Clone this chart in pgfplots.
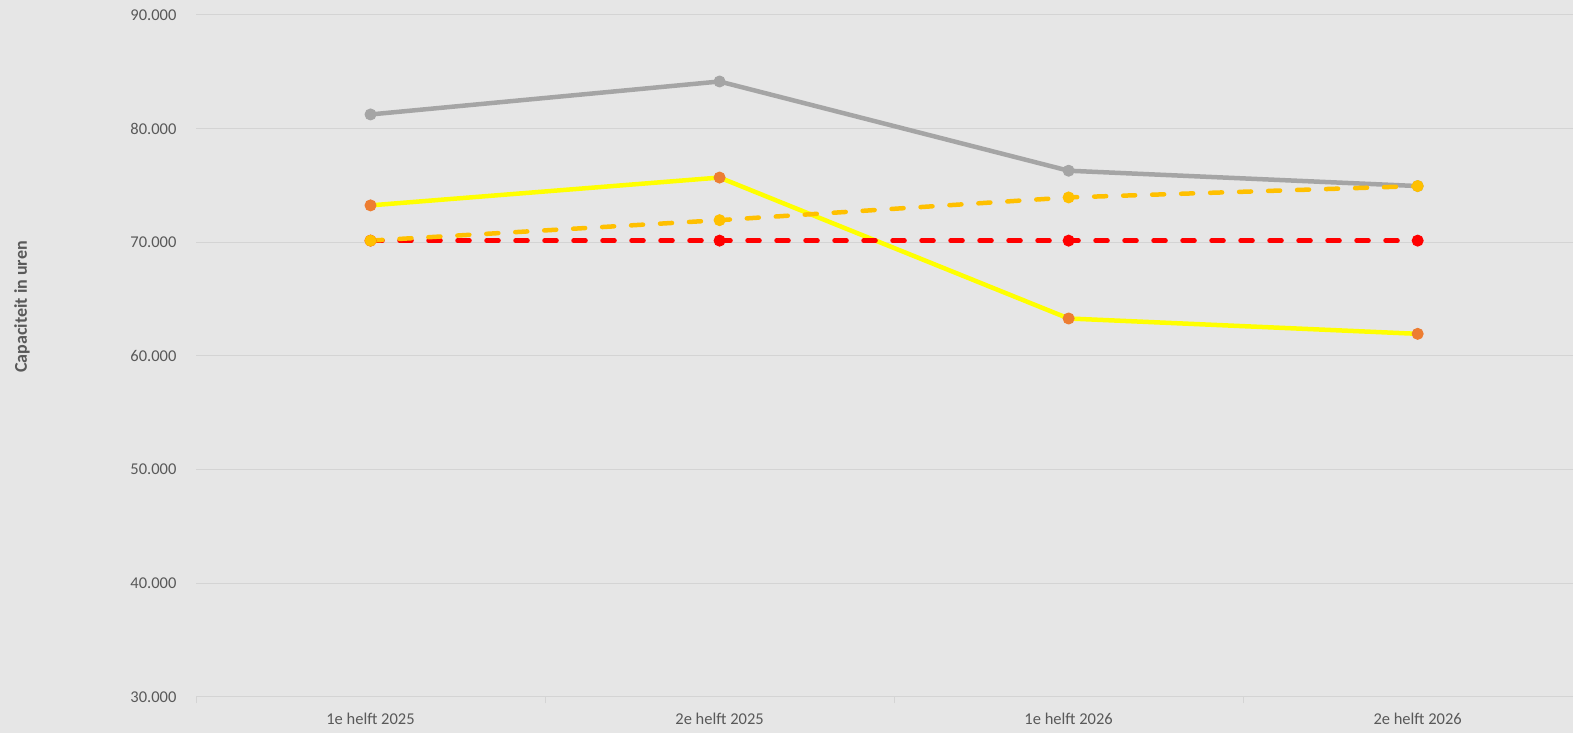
\documentclass[border=0pt]{standalone}
\usepackage{pgfplots}
\pgfplotsset{compat=1.18}
\usepackage{fontspec}
\setmainfont{Carlito}
\definecolor{bg}{HTML}{E6E6E6}
\definecolor{gridc}{HTML}{D4D4D4}
\definecolor{txt}{HTML}{595959}
\definecolor{grayl}{HTML}{A5A5A5}
\definecolor{yell}{HTML}{FFFF00}
\definecolor{orng}{HTML}{ED7D31}
\definecolor{gold}{HTML}{FFC000}
\definecolor{redl}{HTML}{FF0000}
\begin{document}
\begin{tikzpicture}[x=1pt,y=1pt]
\useasboundingbox (0,0) rectangle (1573,733);
\fill[bg] (0,0) rectangle (1573,733);
\begin{axis}[
  at={(196pt,36pt)}, anchor=south west,
  scale only axis, width=1377pt, height=682pt,
  xmin=-0.5, xmax=3.445, ymin=30000, ymax=90000,
  xtick={0,1,2,3},
  xticklabels={1e helft 2025,2e helft 2025,1e helft 2026,2e helft 2026},
  ytick={30000,40000,50000,60000,70000,80000,90000},
  scaled y ticks=false,
  yticklabel style={/pgf/number format/fixed, /pgf/number format/precision=0, /pgf/number format/1000 sep={.}, /pgf/number format/assume math mode=true, xshift=-16pt},
  ticklabel style={font=\fontsize{16.5}{18}\selectfont, text=txt},
  xticklabel style={yshift=-13pt},
  major tick length=0pt,
  xtick pos=bottom, ytick pos=left,
  axis line style={draw=none},
  ymajorgrids, grid style={gridc, line width=1pt},
  extra x ticks={-0.5,0.5,1.5,2.5},
  extra x tick labels={},
  extra x tick style={major tick length=6pt, tick align=outside, tick style={gridc, line width=1pt}, grid=none},
  ylabel={\bfseries Capaciteit in uren},
  every axis y label/.style={at={(axis description cs:0,0.572)}, xshift=-174pt, rotate=90, anchor=center, font=\fontsize{18}{20}\selectfont, text=txt},
  clip=false,
]
\addplot[grayl, line width=4.5pt, line join=round, mark=*, mark options={solid, fill=grayl, draw=grayl, line width=1pt}, mark size=5.5pt]
  coordinates {(0,81250) (1,84150) (2,76300) (3,74950)};
\addplot[yell, line width=4.5pt, line join=round, mark=*, mark options={solid, fill=orng, draw=orng, line width=1pt}, mark size=5.5pt]
  coordinates {(0,73250) (1,75700) (2,63300) (3,61950)};
\addplot[redl, line width=4.5pt, line cap=round, dash pattern=on 12pt off 17pt, mark=*, mark options={solid, fill=redl, draw=redl, line width=1pt}, mark size=5.5pt]
  coordinates {(0,70150) (1,70150) (2,70150) (3,70150)};
\addplot[gold, line width=4.5pt, line cap=round, dash pattern=on 12pt off 17pt, mark=*, mark options={solid, fill=gold, draw=gold, line width=1pt}, mark size=5.5pt]
  coordinates {(0,70150) (1,71950) (2,73950) (3,74950)};
\end{axis}
\end{tikzpicture}
\end{document}
